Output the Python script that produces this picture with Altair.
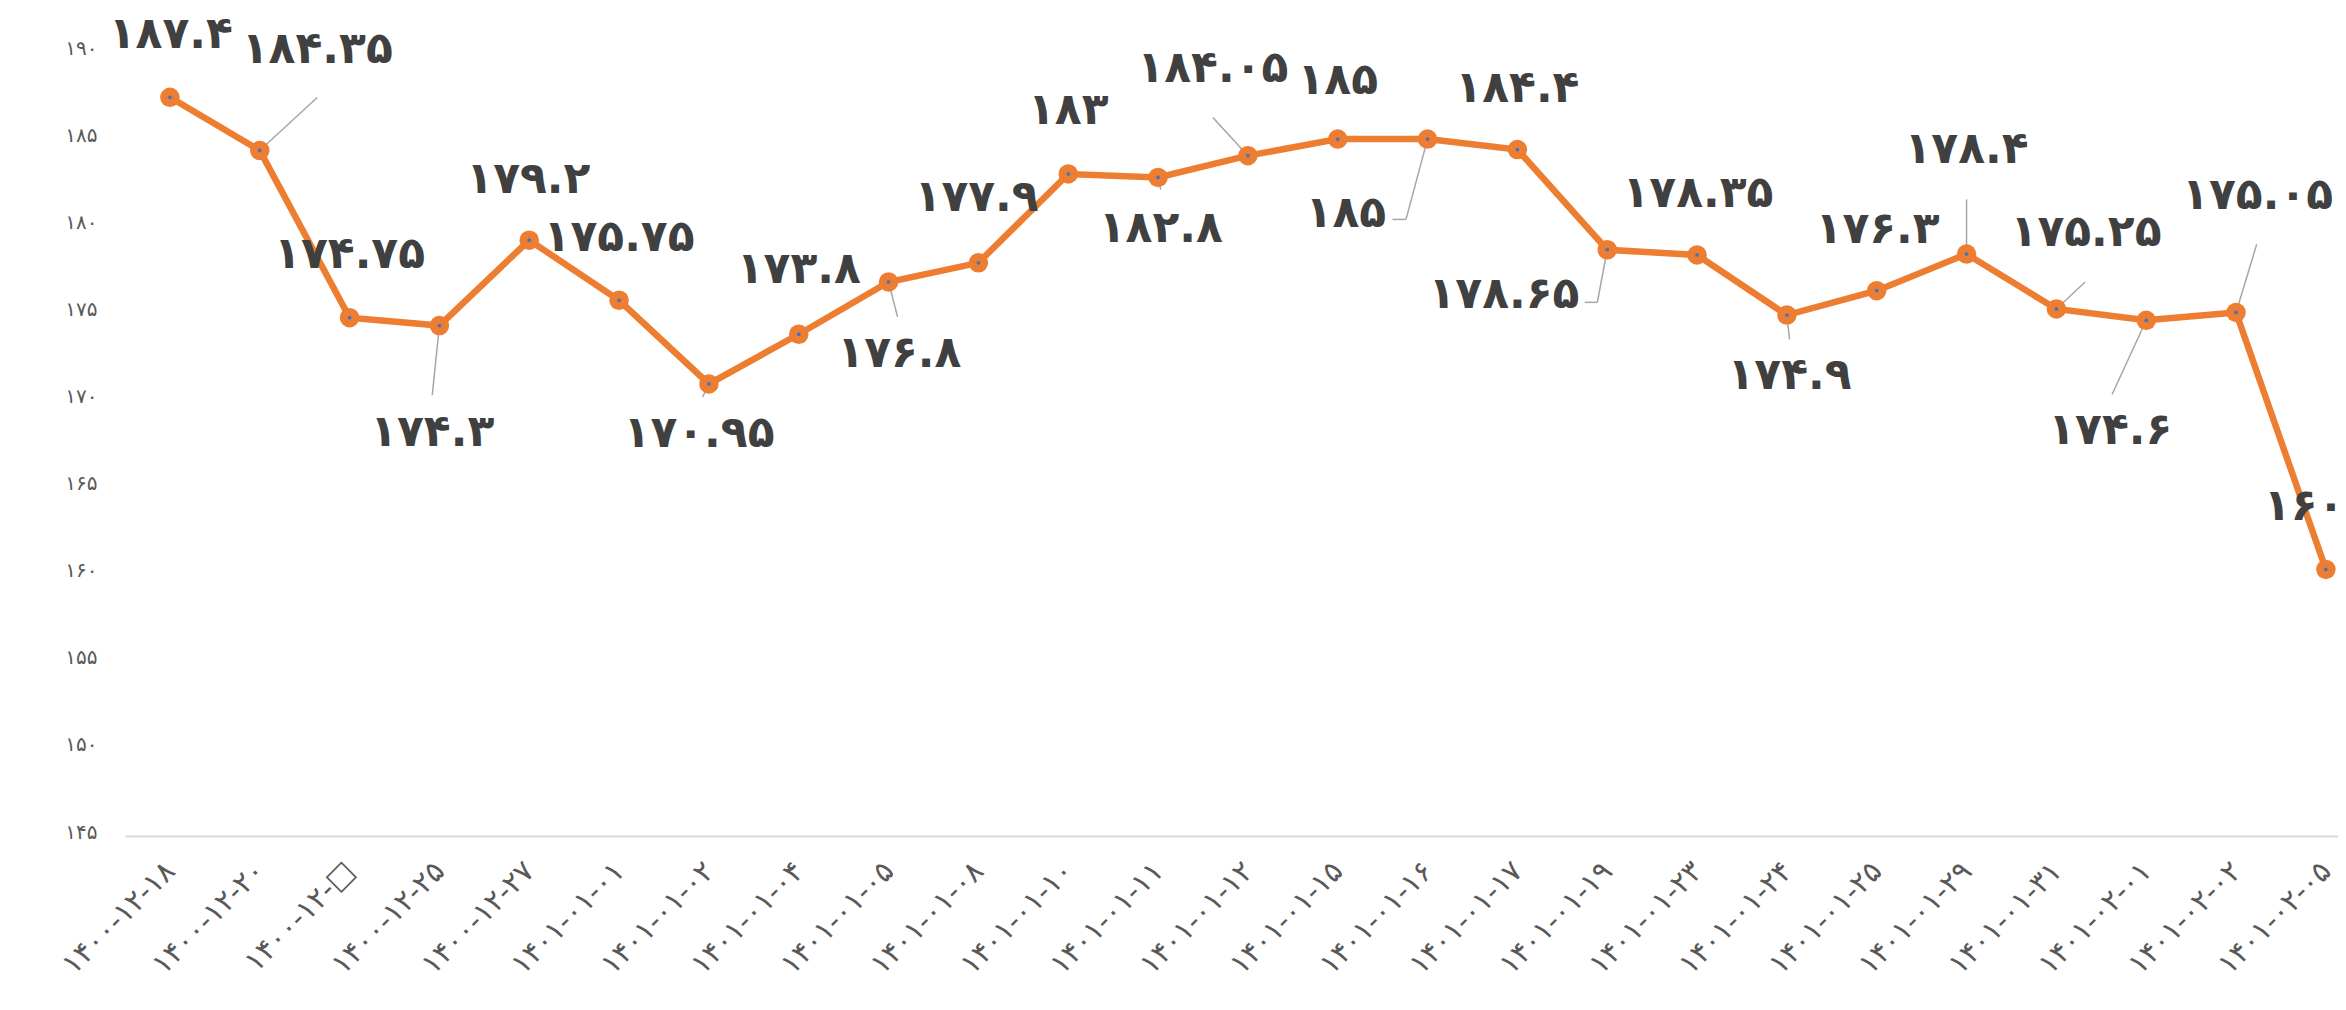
import altair as alt
import pandas as pd

# ---- data ----
dates = ["۱۴۰۰-۱۲-۱۸", "۱۴۰۰-۱۲-۲۰", "۱۴۰۰-۱۲-□", "۱۴۰۰-۱۲-۲۵", "۱۴۰۰-۱۲-۲۷",
         "۱۴۰۱-۰۱-۰۱", "۱۴۰۱-۰۱-۰۲", "۱۴۰۱-۰۱-۰۴", "۱۴۰۱-۰۱-۰۵", "۱۴۰۱-۰۱-۰۸",
         "۱۴۰۱-۰۱-۱۰", "۱۴۰۱-۰۱-۱۱", "۱۴۰۱-۰۱-۱۲", "۱۴۰۱-۰۱-۱۵", "۱۴۰۱-۰۱-۱۶",
         "۱۴۰۱-۰۱-۱۷", "۱۴۰۱-۰۱-۱۹", "۱۴۰۱-۰۱-۲۳", "۱۴۰۱-۰۱-۲۴", "۱۴۰۱-۰۱-۲۵",
         "۱۴۰۱-۰۱-۲۹", "۱۴۰۱-۰۱-۳۱", "۱۴۰۱-۰۲-۰۱", "۱۴۰۱-۰۲-۰۲", "۱۴۰۱-۰۲-۰۵"]
values = [187.4, 184.35, 174.75, 174.3, 179.2, 175.75, 170.95, 173.8, 176.8, 177.9,
          183, 182.8, 184.05, 185, 185, 184.4, 178.65, 178.35, 174.9, 176.3,
          178.4, 175.25, 174.6, 175.05, 160.3]
y_ticks = [145, 150, 155, 160, 165, 170, 175, 180, 185, 190]
y_tick_labels = ["۱۴۵", "۱۵۰", "۱۵۵", "۱۶۰", "۱۶۵", "۱۷۰", "۱۷۵", "۱۸۰", "۱۸۵", "۱۹۰"]

# label placement (data units: category index, value)
label_x = [0.01, 1.64, 2.0, 2.92, 3.99, 5.0, 5.89, 7.0, 8.12, 8.98, 10.0, 11.03, 11.61,
           13.0, 13.09, 15.0, 14.85, 17.01, 18.03, 19.01, 20.0, 21.33, 21.6, 23.24, 24.0]
label_y = [190.95, 190.09, 178.32, 168.11, 182.68, 179.3, 168.1, 177.47, 172.65, 181.6,
           186.64, 179.86, 189.05, 188.36, 180.7, 187.9, 176.03, 181.85, 171.38, 179.8,
           184.35, 179.6, 168.23, 181.73, 163.87]
# leader lines: (point index, end x, end y) and elbow continuations (x, y, x2, y2)
leaders = [(1, 1.64, 187.39), (3, 2.92, 170.3), (6, 5.93, 170.2), (8, 8.1, 174.8),
           (11, 11.03, 182.1), (12, 11.61, 186.24), (14, 13.76, 180.39), (16, 15.89, 175.63),
           (18, 18.03, 173.5), (20, 20.0, 181.54), (21, 21.32, 176.8), (22, 21.62, 170.34),
           (23, 23.23, 178.96)]
elbows = [(13.76, 180.39, 13.61, 180.39), (15.89, 175.63, 15.75, 175.63)]

FA = str.maketrans("0123456789", "۰۱۲۳۴۵۶۷۸۹")
def fa(v):
    return f"{v:g}".translate(FA)

df = pd.DataFrame({"i": list(range(len(values))), "v": values})
lab = pd.DataFrame({"i": label_x, "v": label_y, "t": [fa(v) for v in values]})
lead_rows = [{"i": i, "v": values[i], "i2": ex, "v2": ey} for i, ex, ey in leaders]
lead_rows += [{"i": a, "v": b, "i2": c, "v2": d} for a, b, c, d in elbows]
lead = pd.DataFrame(lead_rows)

xscale = alt.Scale(domain=[-0.5, 24.135], nice=False, zero=False)
yscale = alt.Scale(domain=[145, 190], nice=False, zero=False)

x_label_expr = "[" + ",".join("'" + d + "'" for d in dates) + "][datum.value]"
y_label_expr = "[" + ",".join("'" + d + "'" for d in y_tick_labels) + "][(datum.value-145)/5]"

xaxis = alt.Axis(values=list(range(len(dates))), labelExpr=x_label_expr, title=None,
                 grid=False, ticks=False, domain=True, domainColor="#d9d9d9", domainWidth=2,
                 labelAngle=-45, labelAlign="right", labelBaseline="middle", labelPadding=30,
                 labelFont="DejaVu Sans", labelFontSize=29, labelColor="#595959",
                 labelOverlap=False, labelFlush=False)
yaxis = alt.Axis(values=y_ticks, labelExpr=y_label_expr, title=None, grid=False, ticks=False,
                 domain=False, labelPadding=28, labelFont="DejaVu Sans", labelFontSize=20,
                 labelColor="#595959", labelOffset=-4)

X = alt.X("i:Q", scale=xscale, axis=xaxis)
Y = alt.Y("v:Q", scale=yscale, axis=yaxis)

line = alt.Chart(df).mark_line(color="#ED7D31", strokeWidth=6.5).encode(x=X, y=Y)

leader_layer = alt.Chart(lead).mark_rule(color="#a6a6a6", strokeWidth=1.5).encode(
    x=X, y=Y, x2="i2:Q", y2="v2:Q")

pts = alt.Chart(df).mark_circle(color="#ED7D31", size=380, opacity=1).encode(x=X, y=Y)

dots = alt.Chart(df).mark_circle(color="#4472C4", size=14, opacity=1).encode(x=X, y=Y)

labels = alt.Chart(lab).mark_text(font="DejaVu Sans", fontWeight="bold", fontSize=44,
                                  color="#404040", align="center", baseline="middle").encode(
    x=X, y=Y, text="t:N")

chart = alt.layer(line, leader_layer, pts, dots, labels).properties(
    width=2213, height=784,
    autosize=alt.AutoSizeParams(type="none"),
    padding={"left": 117, "top": 44, "right": 0, "bottom": 160},
    background="white",
).configure_view(stroke=None)

chart.save("out.html", embed_options={"renderer": "svg", "actions": False})
